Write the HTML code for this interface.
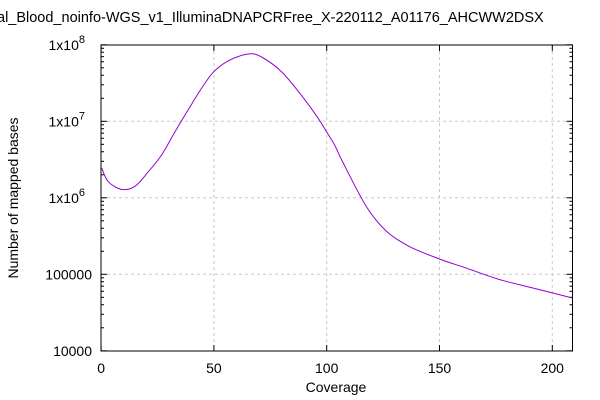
<!DOCTYPE html>
<html><head><meta charset="utf-8"><style>
html,body{margin:0;padding:0;background:#fff;width:600px;height:400px;overflow:hidden}
svg{display:block;font-family:"Liberation Sans",sans-serif}
</style></head><body>
<svg id="chart" width="600" height="400">
<text x="-3" y="22" font-size="14.5" fill="#000">al_Blood_noinfo-WGS_v1_IlluminaDNAPCRFree_X-220112_A01176_AHCWW2DSX</text>
<g id="grid"></g><g id="ticks"></g>
<rect x="101" y="45" width="471.5" height="306" fill="none" stroke="#000" stroke-width="1"/>
<path id="line" fill="none" stroke="#9400d3" stroke-width="1"/>
<text x="336" y="392" font-size="14" text-anchor="middle">Coverage</text>
<text transform="translate(18,198) rotate(-90)" font-size="14" text-anchor="middle">Number of mapped bases</text>
</svg>
<script>
const xs=[0.25,3.2,9.1,15,20.9,26.8,32.7,38.6,44.5,49.7,56.3,65.2,71.1,79.9,88.8,96.2,100,103.5,107.4,117.7,126.6,136.9,150,162,176.8,191.6,208.9];
const logVals=[6.39,6.21,6.11,6.15,6.34,6.56,6.86,7.15,7.43,7.64,7.79,7.88,7.84,7.65,7.34,7.04,6.86,6.69,6.45,5.88,5.56,5.36,5.20,5.08,4.93,4.82,4.69];
const xTicks=[0,50,100,150,200];
const yTickExp=[4,5,6,7,8];
const yTickLabels=["10000","100000","1x10^6","1x10^7","1x10^8"];
const NS="http://www.w3.org/2000/svg";
const X=v=>101.1+v*2.256;
const Y=l=>44.8+(8-l)*76.5;
const grid=document.getElementById('grid'),tk=document.getElementById('ticks');
function mk(p,tag,a){const e=document.createElementNS(NS,tag);for(const k in a)e.setAttribute(k,a[k]);p.appendChild(e);return e;}
xTicks.forEach(v=>{const x=X(v);
 if(v>0){const g=mk(grid,'line',{x1:x,x2:x,y1:45,y2:351,stroke:'#c8c8c8','stroke-dasharray':'3,3'});
 }
 mk(tk,'line',{x1:x,x2:x,y1:351,y2:345,stroke:'#000'});mk(tk,'line',{x1:x,x2:x,y1:45,y2:51,stroke:'#000'});
 const t=mk(tk,'text',{x:x,y:373,'font-size':14,'text-anchor':'middle'});t.textContent=v;
 });
yTickExp.forEach((e,i)=>{const y=Y(e);
 if(i>0&&i<4){const g=mk(grid,'line',{x1:101,x2:572.5,y1:y,y2:y,stroke:'#c8c8c8','stroke-dasharray':'3,3'});
 }
 mk(tk,'line',{x1:101,x2:107,y1:y,y2:y,stroke:'#000'});mk(tk,'line',{x1:572.5,x2:566.5,y1:y,y2:y,stroke:'#000'});
 if(e<8)for(let m=2;m<10;m++){const yy=Y(e+Math.log10(m));mk(tk,'line',{x1:101,x2:104,y1:yy,y2:yy,stroke:'#000'});mk(tk,'line',{x1:572.5,x2:569.5,y1:yy,y2:yy,stroke:'#000'});}
 const lab=yTickLabels[i];const t=mk(tk,'text',{x:92,y:y+5,'font-size':14,'text-anchor':'end'});
 if(lab.includes('^')){const [b,s]=lab.split('^');t.setAttribute('x',85);t.textContent=b;
  const sp=mk(t,'tspan',{dy:-7,'font-size':11});sp.textContent=s;}else t.textContent=lab;
 });
// Catmull-Rom smoothing through data points
const P=xs.map((v,i)=>[X(v),Y(logVals[i])]);
let d='M'+P[0][0].toFixed(1)+','+P[0][1].toFixed(1);
for(let i=0;i<P.length-1;i++){const p0=P[Math.max(0,i-1)],p1=P[i],p2=P[i+1],p3=P[Math.min(P.length-1,i+2)];
 const c1=[p1[0]+(p2[0]-p0[0])/6,p1[1]+(p2[1]-p0[1])/6],c2=[p2[0]-(p3[0]-p1[0])/6,p2[1]-(p3[1]-p1[1])/6];
 d+='C'+c1.map(n=>n.toFixed(1)).join(',')+' '+c2.map(n=>n.toFixed(1)).join(',')+' '+p2.map(n=>n.toFixed(1)).join(',');}
document.getElementById('line').setAttribute('d',d);
</script>
</body></html>
